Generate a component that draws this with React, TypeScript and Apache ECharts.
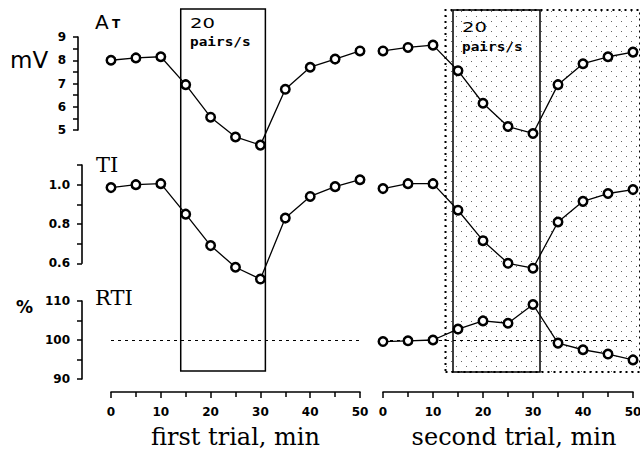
import React, { useEffect, useRef } from "react";
import * as echarts from "echarts";

const minutes = [0, 5, 10, 15, 20, 25, 30, 35, 40, 45, 50];
const atFirst = [8.0, 8.1, 8.15, 6.95, 5.55, 4.7, 4.35, 6.75, 7.7, 8.05, 8.4];
const atSecond = [8.4, 8.55, 8.65, 7.55, 6.15, 5.15, 4.85, 6.95, 7.85, 8.15, 8.35];
const tiFirst = [0.985, 1.0, 1.005, 0.85, 0.69, 0.58, 0.52, 0.83, 0.94, 0.99, 1.025];
const tiSecond = [0.98, 1.005, 1.005, 0.87, 0.715, 0.6, 0.575, 0.81, 0.915, 0.955, 0.975];
const rtiSecond = [99.6, 99.8, 100.0, 102.8, 104.9, 104.3, 109.1, 99.2, 97.5, 96.4, 94.9];
const stimFirst = [14, 31];
const stimSecond = [14, 31.4];
const shadedSecond = [12.5, 51.4];
const xTitles = ["first trial, min", "second trial, min"];

const pair = (ys: number[]) => minutes.map((m, i) => [m, ys[i]]);

export default function App() {
  const ref = useRef<HTMLDivElement>(null);
  useEffect(() => {
    if (!ref.current) return;
    const chart = echarts.init(ref.current, undefined, { renderer: "svg" });

    const cv = document.createElement("canvas");
    cv.width = 10;
    cv.height = 10;
    const ctx = cv.getContext("2d");
    if (ctx) {
      ctx.fillStyle = "#666";
      ctx.fillRect(1, 1, 1, 1);
      ctx.fillRect(6, 6, 1, 1);
    }
    const pattern: any = { image: cv.toDataURL(), repeat: "repeat", imageWidth: 10, imageHeight: 10 };

    const tickFont = { fontFamily: "DejaVu Sans", fontWeight: "bold" as const, fontSize: 12, color: "#000" };
    const axisLine = { show: true, onZero: false, lineStyle: { color: "#000", width: 1.6 } };

    const L = { left: 111, right: 280, outerBoundsMode: "none", containLabel: false };
    const R = { left: 383, right: 7, outerBoundsMode: "none", containLabel: false };
    const grids = [
      { ...L, top: 37, height: 93 },
      { ...R, top: 37, height: 93 },
      { ...L, top: 165, height: 98.3 },
      { ...R, top: 165, height: 98.3 },
      { ...L, top: 301, height: 78 },
      { ...R, top: 301, height: 78 },
      { ...L, top: 9, height: 362 },
      { ...R, right: 0, top: 10, height: 362 },
    ];

    const hiddenX = (gi: number) => ({ type: "value", gridIndex: gi, min: 0, max: 50, show: false });
    const shownX = (gi: number, title: string, pad: number) => ({
      type: "value",
      gridIndex: gi,
      min: 0,
      max: 50,
      interval: 10,
      position: "bottom",
      offset: 13,
      axisLine,
      axisTick: { show: true, length: 6, lineStyle: { color: "#000", width: 1.5 } },
      minorTick: { show: true, splitNumber: 2, length: 5, lineStyle: { color: "#000", width: 1.5 } },
      splitLine: { show: false },
      axisLabel: { ...tickFont, margin: 14 },
      name: title,
      nameLocation: "middle",
      nameGap: 33,
      nameTextStyle: { fontFamily: "DejaVu Serif", fontSize: 24, color: "#000", padding: [0, 0, 0, pad] },
    });

    const yCommon = (gi: number, min: number, max: number, interval: number, offset: number, fmt: (v: number) => string, show: boolean) => ({
      type: "value",
      gridIndex: gi,
      min,
      max,
      interval,
      show,
      offset,
      axisLine,
      axisTick: { show: true, length: 5, lineStyle: { color: "#000", width: 1.5 } },
      splitLine: { show: false },
      axisLabel: { ...tickFont, margin: 12, formatter: fmt },
    });

    const fmtAT = (v: number) => (Math.abs(v - Math.round(v)) < 1e-6 ? String(Math.round(v)) : "");
    const fmtTI = (v: number) => {
      const k = Math.round(v * 10);
      return k % 2 === 0 && k <= 10 ? (k / 10).toFixed(1) : "";
    };
    const fmtRTI = (v: number) => (Math.round(v) % 10 === 0 ? String(Math.round(v)) : "");

    const dataSeries = (name: string, gi: number, ys: number[]) => ({
      name,
      type: "line",
      xAxisIndex: gi,
      yAxisIndex: gi,
      data: pair(ys),
      clip: false,
      z: 5,
      symbol: "circle",
      symbolSize: 8.5,
      showSymbol: true,
      lineStyle: { color: "#000", width: 1.3 },
      itemStyle: { color: "#fff", borderColor: "#000", borderWidth: 2.5 },
    });

    const refLine = {
      silent: true,
      symbol: "none",
      label: { show: false },
      lineStyle: { color: "#000", type: [3, 4], width: 1 },
      data: [{ yAxis: 100 }],
    };

    const boxStyle = { color: "rgba(0,0,0,0)", borderColor: "#000", borderWidth: 1.5 };

    chart.setOption({
      animation: false,
      backgroundColor: "#fff",
      grid: grids,
      xAxis: [
        hiddenX(0),
        hiddenX(1),
        hiddenX(2),
        hiddenX(3),
        shownX(4, xTitles[0], 0),
        shownX(5, xTitles[1], 12),
        { type: "value", gridIndex: 6, min: 0, max: 50, show: false },
        { type: "value", gridIndex: 7, min: 0, max: 51.4, show: false },
      ],
      yAxis: [
        yCommon(0, 5, 9, 0.5, 33, fmtAT, true),
        yCommon(1, 5, 9, 0.5, 0, fmtAT, false),
        yCommon(2, 0.6, 1.1, 0.1, 29, fmtTI, true),
        yCommon(3, 0.6, 1.1, 0.1, 0, fmtTI, false),
        yCommon(4, 90, 110, 5, 29, fmtRTI, true),
        yCommon(5, 90, 110, 5, 0, fmtRTI, false),
        { type: "value", gridIndex: 6, min: 0, max: 1, show: false },
        { type: "value", gridIndex: 7, min: 0, max: 1, show: false },
      ],
      series: [
        {
          name: "stimulation first",
          type: "line",
          xAxisIndex: 6,
          yAxisIndex: 6,
          data: [],
          z: 1,
          markArea: {
            silent: true,
            label: { show: false },
            data: [[{ xAxis: stimFirst[0], itemStyle: boxStyle }, { xAxis: stimFirst[1] }]],
          },
        },
        {
          name: "stimulation second",
          type: "line",
          xAxisIndex: 7,
          yAxisIndex: 7,
          data: [],
          z: 1,
          markArea: {
            silent: true,
            label: { show: false },
            data: [
              [
                {
                  xAxis: shadedSecond[0],
                  itemStyle: { color: pattern, borderColor: "#000", borderWidth: 2, borderType: [2, 4] },
                },
                { xAxis: shadedSecond[1] },
              ],
              [{ xAxis: stimSecond[0], itemStyle: boxStyle }, { xAxis: stimSecond[1] }],
            ],
          },
        },
        dataSeries("AT first", 0, atFirst),
        dataSeries("AT second", 1, atSecond),
        dataSeries("TI first", 2, tiFirst),
        dataSeries("TI second", 3, tiSecond),
        {
          name: "RTI first",
          type: "line",
          xAxisIndex: 4,
          yAxisIndex: 4,
          data: [],
          z: 4,
          markLine: refLine,
        },
        { ...dataSeries("RTI second", 5, rtiSecond), markLine: refLine },
      ],
      graphic: [
        {
          type: "text",
          x: 10,
          y: 60,
          style: { text: "mV", fontFamily: "DejaVu Sans", fontSize: 23, fill: "#000", textVerticalAlign: "middle" },
        },
        {
          type: "text",
          x: 95,
          y: 12,
          style: { text: "A", fontFamily: "DejaVu Sans", fontSize: 20, fill: "#000" },
        },
        {
          type: "text",
          x: 112,
          y: 18,
          style: { text: "T", fontFamily: "DejaVu Sans", fontWeight: "bold", fontSize: 12, fill: "#000" },
        },
        {
          type: "text",
          x: 96,
          y: 165,
          style: { text: "TI", fontFamily: "DejaVu Serif", fontSize: 21, fill: "#000", textVerticalAlign: "middle" },
        },
        {
          type: "text",
          x: 95,
          y: 298,
          style: { text: "RTI", fontFamily: "DejaVu Serif", fontSize: 21, fill: "#000", textVerticalAlign: "middle" },
        },
        {
          type: "text",
          x: 16,
          y: 307,
          style: { text: "%", fontFamily: "DejaVu Sans", fontWeight: "bold", fontSize: 17, fill: "#000", textVerticalAlign: "middle" },
        },
        {
          type: "text",
          x: 190,
          y: 23,
          scaleX: 1.4,
          style: { text: "20", fontFamily: "DejaVu Sans", fontSize: 14, fill: "#000", textVerticalAlign: "middle" },
        },
        {
          type: "text",
          x: 190,
          y: 42,
          scaleX: 1.2,
          style: { text: "pairs/s", fontFamily: "DejaVu Sans Mono", fontWeight: "bold", fontSize: 12, fill: "#000", textVerticalAlign: "middle" },
        },
        {
          type: "text",
          x: 462,
          y: 27,
          scaleX: 1.4,
          style: { text: "20", fontFamily: "DejaVu Sans", fontSize: 14, fill: "#000", textVerticalAlign: "middle" },
        },
        {
          type: "text",
          x: 462,
          y: 47,
          scaleX: 1.2,
          style: { text: "pairs/s", fontFamily: "DejaVu Sans Mono", fontWeight: "bold", fontSize: 12, fill: "#000", textVerticalAlign: "middle" },
        },
      ],
    });
    return () => chart.dispose();
  }, []);
  return <div ref={ref} style={{ position: "fixed", left: 0, top: 0, width: 640, height: 450 }} />;
}
